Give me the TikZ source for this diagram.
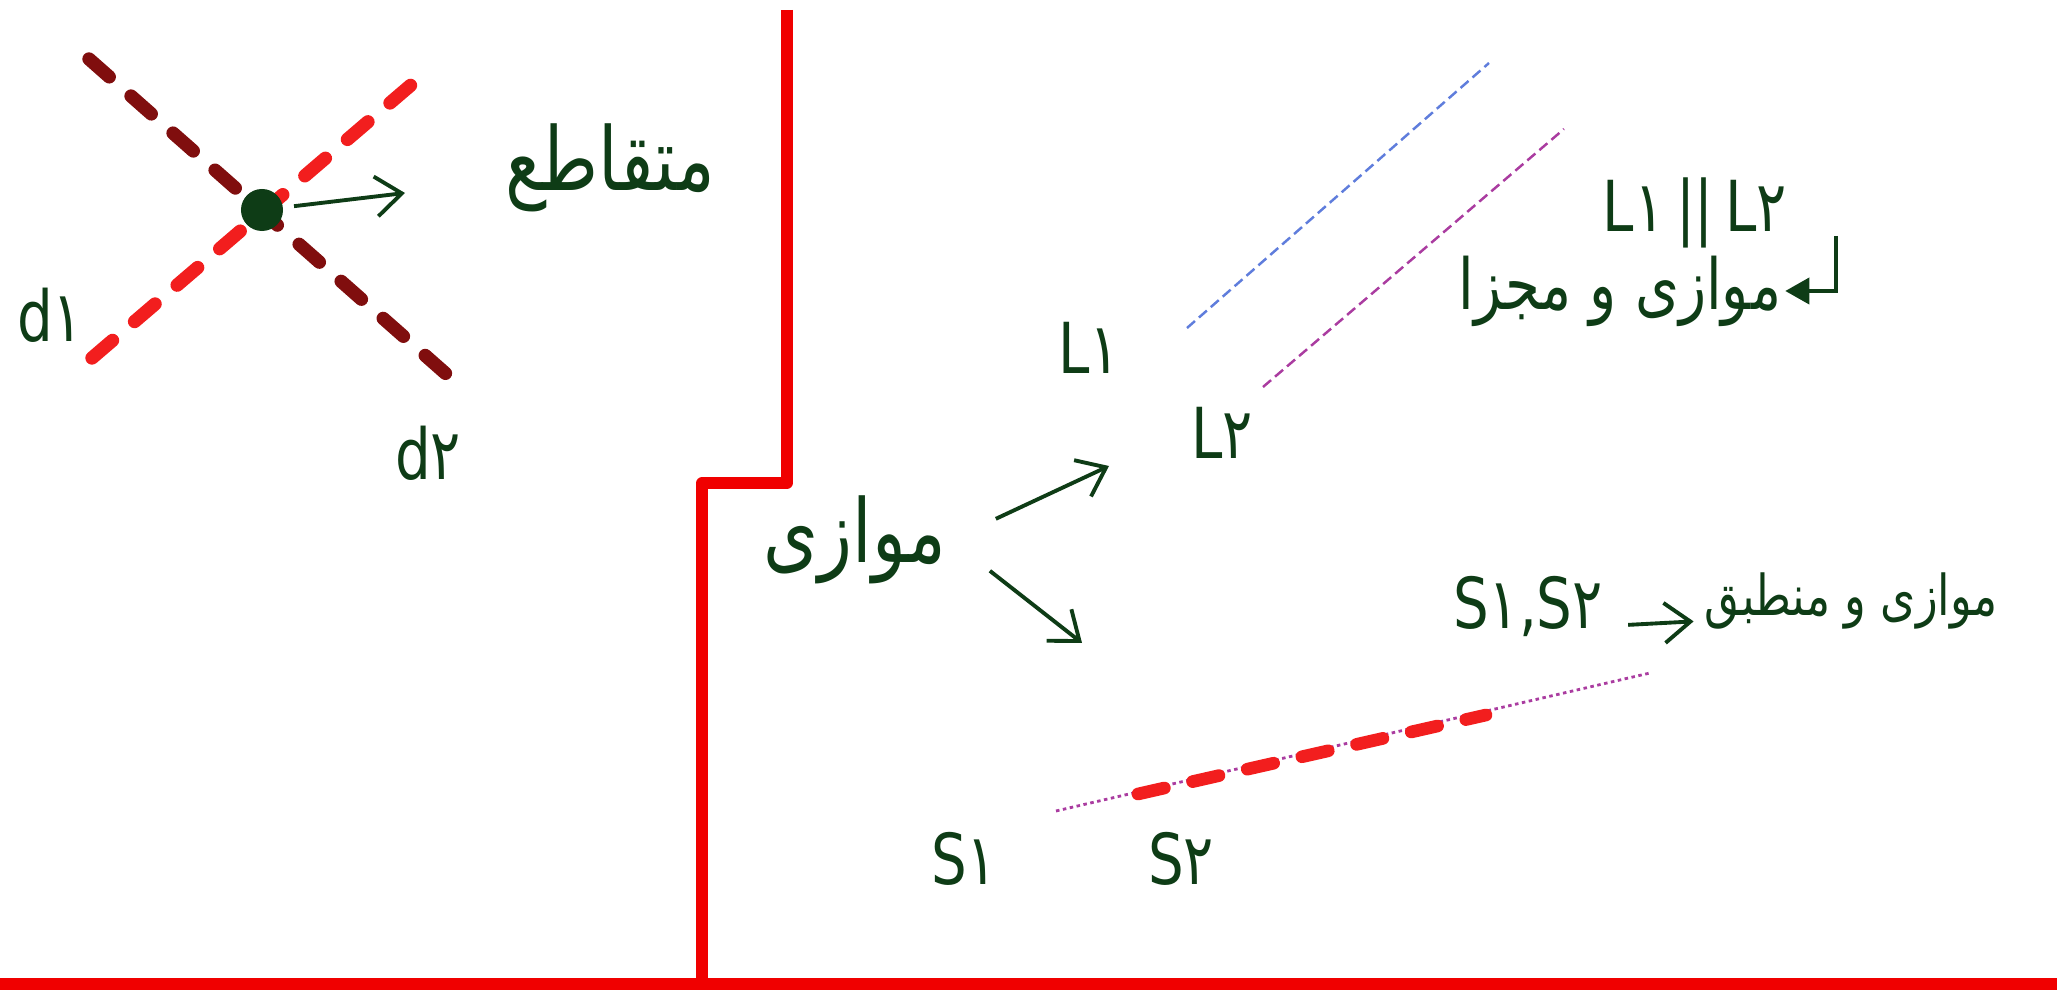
\documentclass[tikz,border=0pt]{standalone}
\usepackage{fontspec}
\setmainfont[FakeStretch=0.8]{DejaVu Sans}
\newfontfamily\arabicfont[Script=Arabic, FakeStretch=0.8]{DejaVu Sans}
\TeXXeTstate=1
\usepackage{xcolor}
\usetikzlibrary{arrows.meta}
\definecolor{ink}{RGB}{14,60,22}
\definecolor{wallred}{RGB}{240,0,0}
\definecolor{lightred}{RGB}{242,30,30}
\definecolor{deepred}{RGB}{128,14,14}
\definecolor{lineblue}{RGB}{95,125,220}
\definecolor{linepurple}{RGB}{170,60,160}
\newcommand{\fa}[1]{{\arabicfont\beginR #1\endR}}

\begin{document}
\begin{tikzpicture}[
  x=0.01cm, y=-0.01cm,
  lbl/.style={text=ink, font=\fontsize{20}{24}\selectfont, inner sep=1pt},
  word/.style={text=ink, font=\arabicfont\fontsize{25}{30}\selectfont, inner sep=1pt},
  phrase/.style={text=ink, font=\arabicfont\fontsize{20}{26}\selectfont, inner sep=1pt},
  wall/.style={wallred, line width=3.2pt, line join=round},
  thickdash/.style={line width=3.8pt, line cap=round, dash pattern=on 0.27cm off 0.29cm},
  thindash/.style={line width=0.7pt, dash pattern=on 3pt off 1.5pt},
  dotline/.style={line width=0.8pt, dash pattern=on 1pt off 1pt},
  arr/.style={ink, line width=1.1pt, -{Straight Barb[length=2.6mm, width=4mm]}},
  hook/.style={ink, line width=1.1pt, -{Triangle[length=2.4mm, width=2.6mm]}}
]
\useasboundingbox (0,0) rectangle (2057,1001);

\draw[wall] (787,10) -- (787,483) -- (702,483) -- (702,984);
\draw[wall] (0,984) -- (2057,984);

\draw[thickdash, deepred] (89,59) -- (453,380);
\draw[thickdash, lightred] (92,358) -- (411,85);
\node[circle, fill=ink, minimum size=0.42cm, inner sep=0pt] (cut) at (262,210) {};
\node[word] (inter) at (610,168) {\fa{متقاطع}};
\coordinate (cutTip) at (405,193);
\draw[arr, shorten <=3pt] (cut) -- (cutTip);
\node[lbl] (d1) at (50,315) {d۱};
\node[lbl] (d2) at (428,453) {d۲};

\node[lbl] (L1) at (1089,348) {L۱};
\node[lbl] (L2) at (1222,433) {L۲};
\draw[thindash, lineblue] (1187,328) -- (1489,63);
\draw[thindash, linepurple] (1263,387) -- (1564,129);
\node[lbl] (par) at (1695,213) {L۱\,||\,L۲};
\node[phrase] (apart) at (1620,291) {\fa{موازی و مجزا}};
\coordinate (hk) at (1836,236);
\draw[hook] (hk) |- (apart.east);

\node[word] (parl) at (855,540) {\fa{موازی}};
\coordinate (upTip) at (1109,466);
\coordinate (dnTip) at (1082,643);
\draw[arr, shorten <=0.5cm] (parl.east) -- (upTip);
\draw[arr, shorten <=0.5cm] (parl.east) -- (dnTip);

\draw[dotline, linepurple] (1056,811) -- (1650,673);
\draw[thickdash, lightred, line width=3.6pt] (1138,794) -- (1486,715);
\node[lbl] (S1) at (964,859) {S۱};
\node[lbl] (S2) at (1181,859) {S۲};
\node[lbl] (pair) at (1528,606) {S۱,S۲};
\node[phrase, font=\arabicfont\fontsize{16}{22}\selectfont, anchor=east] (same) at (2002,601) {\fa{موازی و منطبق}};
\draw[arr, shorten <=6pt, shorten >=2pt] ([yshift=-0.2cm]pair.east) -- ([yshift=-0.2cm]same.west);
\end{tikzpicture}
\end{document}
